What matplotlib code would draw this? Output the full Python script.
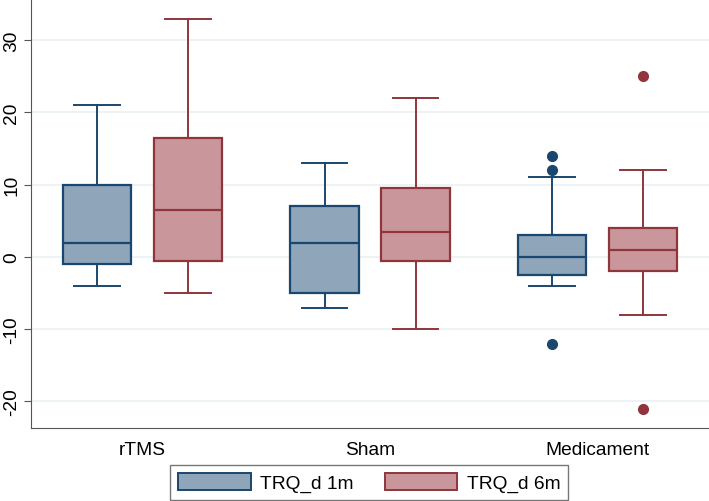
import matplotlib.pyplot as plt
from matplotlib.patches import Patch

plt.rcParams['font.family'] = ['Liberation Sans', 'DejaVu Sans']

groups = ['rTMS', 'Sham', 'Medicament']
series = ['TRQ_d 1m', 'TRQ_d 6m']

# per group: whisker low, Q1, median, Q3, whisker high
m1_low = [-4, -7, -4]
m1_q1 = [-1, -5, -2.5]
m1_med = [2, 2, 0]
m1_q3 = [10, 7, 3]
m1_high = [21, 13, 11]
m1_out = [[], [], [14, 12, -12]]

m6_low = [-5, -10, -8]
m6_q1 = [-0.5, -0.5, -2]
m6_med = [6.5, 3.5, 1]
m6_q3 = [16.5, 9.5, 4]
m6_high = [33, 22, 12]
m6_out = [[], [], [25, -21]]

yticks = [-20, -10, 0, 10, 20, 30]

blue_edge = '#1a476f'
blue_fill = '#8fa5ba'
red_edge = '#90353b'
red_fill = '#c9979b'
fs = 13.8


def make_stats(low, q1, med, q3, high, out):
    stats = []
    for i in range(len(low)):
        stats.append({'whislo': low[i], 'q1': q1[i], 'med': med[i],
                      'q3': q3[i], 'whishi': high[i], 'fliers': out[i]})
    return stats


fig = plt.figure(figsize=(7.09, 5.02), dpi=100)
ax = fig.add_axes([0.044, 0.145, 0.956, 0.855])

for stats, off, ec, fc in [(make_stats(m1_low, m1_q1, m1_med, m1_q3, m1_high, m1_out), -0.2, blue_edge, blue_fill),
                           (make_stats(m6_low, m6_q1, m6_med, m6_q3, m6_high, m6_out), 0.2, red_edge, red_fill)]:
    pos = [i + off for i in range(len(groups))]
    ax.bxp(stats, positions=pos, widths=0.3, patch_artist=True,
           boxprops=dict(facecolor=fc, edgecolor=ec, linewidth=1.6),
           medianprops=dict(color=ec, linewidth=1.6),
           whiskerprops=dict(color=ec, linewidth=1.4),
           capprops=dict(color=ec, linewidth=1.4),
           capwidths=0.2,
           flierprops=dict(marker='o', markerfacecolor=ec, markeredgecolor=ec, markersize=7))

ax.set_xlim(-0.49, 2.49)
ax.set_ylim(-23.7, 35.7)
ax.set_xticks(range(len(groups)))
ax.set_xticklabels(groups, fontsize=fs)
ax.tick_params(axis='x', length=0, pad=9)
ax.set_yticks(yticks)
ax.set_yticklabels([str(t) for t in yticks], fontsize=fs, rotation=90, va='center')
ax.tick_params(axis='y', length=5, color='#555555', pad=3)
ax.yaxis.grid(True, color='#eaf0f2', linewidth=1.2)
ax.set_axisbelow(True)
for s in ['top', 'right']:
    ax.spines[s].set_visible(False)
for s in ['left', 'bottom']:
    ax.spines[s].set_color('#555555')

handles = [Patch(facecolor=blue_fill, edgecolor=blue_edge, linewidth=1.4, label=series[0]),
           Patch(facecolor=red_fill, edgecolor=red_edge, linewidth=1.4, label=series[1])]
leg = fig.legend(handles=handles, loc='lower center', bbox_to_anchor=(0.521, 0.002), ncol=2,
                 fontsize=fs, frameon=True, fancybox=False, handlelength=3.8, handleheight=1.0,
                 handletextpad=0.5, columnspacing=1.6, borderpad=0.4, borderaxespad=0)
leg.get_frame().set_edgecolor('#555555')
leg.get_frame().set_linewidth(1.0)

fig.savefig('out.png', dpi=100)
